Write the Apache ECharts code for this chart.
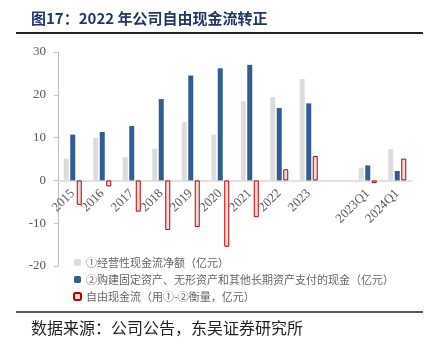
<!DOCTYPE html>
<html>
<head>
<meta charset="utf-8">
<script src="https://cdn.jsdelivr.net/npm/echarts@6/dist/echarts.min.js"></script>
<style>html,body{margin:0;padding:0;background:#fff;}#c{width:439px;height:344px;}</style>
</head>
<body>
<div id="c"></div>
<script>
var categories = ['2015','2016','2017','2018','2019','2020','2021','2022','2023','','2023Q1','2024Q1'];
var operatingCF = [5.1, 9.9, 5.4, 7.4, 13.6, 10.7, 18.5, 19.5, 23.7, null, 2.9, 7.3];
var capex = [10.7, 11.3, 12.7, 19.0, 24.5, 26.2, 27.0, 16.9, 18.0, null, 3.5, 2.2];
var freeCF = [-5.7, -1.4, -7.3, -11.6, -10.9, -15.5, -8.6, 2.6, 5.7, null, -0.6, 5.1];
var yTicks = [-20, -10, 0, 10, 20, 30];
var seriesNames = ['①经营性现金流净额（亿元）', '②购建固定资产、无形资产和其他长期资产支付的现金（亿元）', '自由现金流（用①-②衡量，亿元）'];

var gridTop = 52, gridBottom = 78, H = 344;
var yMin = yTicks[0], yMax = yTicks[yTicks.length - 1];
var plotH = H - gridTop - gridBottom;
var zeroY = gridTop + plotH * (yMax - 0) / (yMax - yMin);
var xOffset = -((H - gridBottom) - zeroY);

var chart = echarts.init(document.getElementById('c'), null, {renderer: 'canvas'});
var serif = '"Liberation Serif", "Times New Roman", serif';
var cjk = '"Noto Sans CJK SC", sans-serif';
chart.setOption({
  animation: false,
  backgroundColor: '#fff',
  title: [{
    text: '图17：2022 年公司自由现金流转正',
    left: 26, top: 6,
    textStyle: {fontFamily: cjk, fontWeight: 'bold', fontSize: 15, color: '#1f3864'}
  }, {
    text: '数据来源：公司公告，东吴证券研究所',
    left: 26, top: 315,
    textStyle: {fontFamily: cjk, fontWeight: 'normal', fontSize: 16, color: '#222'}
  }],
  graphic: [
    {type: 'line', shape: {x1: 16, y1: 33, x2: 423, y2: 33}, style: {stroke: '#222', lineWidth: 2}},
    {type: 'line', shape: {x1: 16, y1: 312, x2: 423, y2: 312}, style: {stroke: '#222', lineWidth: 1.5}}
  ],
  legend: {
    orient: 'vertical', left: 68, top: 252,
    itemWidth: 7, itemHeight: 7, itemGap: 6,
    textStyle: {fontFamily: cjk, fontSize: 11, color: '#666'},
    data: seriesNames
  },
  grid: {left: 58, right: 27, top: gridTop, bottom: gridBottom, containLabel: false},
  xAxis: {
    type: 'category', data: categories,
    offset: xOffset,
    axisLine: {onZero: false, lineStyle: {color: '#d9d9d9', width: 1.5}},
    axisTick: {show: false},
    axisLabel: {rotate: 45, interval: 0, margin: 11, fontFamily: serif, fontSize: 13, color: '#595959'}
  },
  yAxis: {
    type: 'value', min: yMin, max: yMax, interval: 10,
    splitLine: {show: false},
    axisLine: {show: true, lineStyle: {color: '#bfbfbf', width: 1}},
    axisTick: {show: true, length: 4, lineStyle: {color: '#bfbfbf'}},
    axisLabel: {margin: 12, fontFamily: serif, fontSize: 13, color: '#595959'}
  },
  series: [
    {name: seriesNames[0], type: 'bar', data: operatingCF, barWidth: 5, barGap: '30%',
      itemStyle: {color: '#dcdcdc'}},
    {name: seriesNames[1], type: 'bar', data: capex, barWidth: 5, barGap: '30%',
      itemStyle: {color: '#335c92'}},
    {name: seriesNames[2], type: 'bar', data: freeCF, barWidth: 5, barGap: '30%',
      itemStyle: {color: '#f2d9d9', borderColor: '#c00000', borderWidth: 1}}
  ]
});
</script>
</body>
</html>
